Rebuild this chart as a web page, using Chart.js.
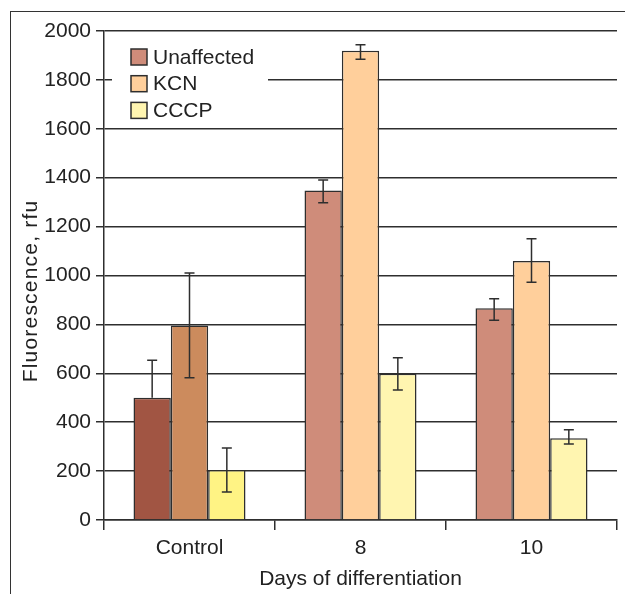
<!DOCTYPE html>
<html>
<head>
<meta charset="utf-8">
<script src="https://cdn.jsdelivr.net/npm/chart.js@4.4.1/dist/chart.umd.min.js"></script>
<style>
  html, body { margin: 0; padding: 0; background: #fff; }
  #wrap { position: relative; width: 625px; height: 594px; }
  #frame { position: absolute; left: 10px; top: 11px; right: 0; bottom: 0; border-top: 1.5px solid #333; border-left: 1.5px solid #333; }
  canvas { position: absolute; left: 0; top: 0; }
</style>
</head>
<body>
<div id="wrap">
  <div id="frame"></div>
  <canvas id="chart" width="625" height="594"></canvas>
</div>
<script>
// data
const categories = ['Control', '8', '10'];
const seriesNames = ['Unaffected', 'KCN', 'CCCP'];
const unaffected = [500, 1348, 866];
const kcn = [795, 1919, 1059];
const cccp = [205, 598, 334];
const unaffectedHi = [653, 1391, 905];
const unaffectedLo = [null, 1298, 817];
const kcnHi = [1010, 1944, 1150];
const kcnLo = [582, 1884, 972];
const cccpHi = [294, 664, 369];
const cccpLo = [115, 532, 311];
const yTicks = [0, 200, 400, 600, 800, 1000, 1200, 1400, 1600, 1800, 2000];
const yTitle = 'Fluorescence, rfu';

// control bars darker, day bars lighter
const controlColors = ['#a15543', '#cc8b5d', '#fff384'];
const dayColors = ['#cf8c7a', '#ffcf9b', '#fff5b0'];
const ink = '#2e2e2e';
const fontFamily = '"Liberation Sans", Arial, sans-serif';
const fontSize = 21;

function colorsFor(i) {
    return categories.map((c, j) => j === 0 ? controlColors[i] : dayColors[i]);
}

const errors = [
    { hi: unaffectedHi, lo: unaffectedLo },
    { hi: kcnHi, lo: kcnLo },
    { hi: cccpHi, lo: cccpLo }
];

const errorBars = {
    id: 'errorBars',
    afterDatasetsDraw(chart) {
        const ctx = chart.ctx;
        const y = chart.scales.y;
        ctx.save();
        ctx.strokeStyle = ink;
        ctx.lineWidth = 1.5;
        chart.data.datasets.forEach((ds, i) => {
            const meta = chart.getDatasetMeta(i);
            meta.data.forEach((bar, j) => {
                const hi = errors[i].hi[j];
                const lo = errors[i].lo[j] == null ? ds.data[j] : errors[i].lo[j];
                const yHi = y.getPixelForValue(hi);
                const yLo = y.getPixelForValue(lo);
                ctx.beginPath();
                ctx.moveTo(bar.x, yHi);
                ctx.lineTo(bar.x, yLo);
                ctx.moveTo(bar.x - 5, yHi);
                ctx.lineTo(bar.x + 5, yHi);
                if (errors[i].lo[j] != null) {
                    ctx.moveTo(bar.x - 5, yLo);
                    ctx.lineTo(bar.x + 5, yLo);
                }
                ctx.stroke();
            });
        });
        ctx.restore();
    }
};

// legend sits inside the plot, top left, on a white patch
const insideLegend = {
    id: 'insideLegend',
    afterDraw(chart) {
        const ctx = chart.ctx;
        const left = chart.chartArea.left;
        const top = chart.chartArea.top;
        ctx.save();
        ctx.fillStyle = '#fff';
        ctx.fillRect(left + 8, top + 10, 156, 84);
        ctx.font = fontSize + 'px ' + fontFamily;
        ctx.textBaseline = 'middle';
        seriesNames.forEach((name, i) => {
            const cy = top + 26 + i * 26.7;
            ctx.fillStyle = dayColors[i];
            ctx.fillRect(left + 27, cy - 8, 16, 16);
            ctx.strokeStyle = ink;
            ctx.lineWidth = 1.5;
            ctx.strokeRect(left + 27, cy - 8, 16, 16);
            ctx.fillStyle = '#222';
            ctx.fillText(name, left + 49, cy + 1);
        });

        // rotated y title, slightly spaced like the original
        ctx.translate(31, 291);
        ctx.rotate(-Math.PI / 2);
        ctx.textAlign = 'center';
        ctx.letterSpacing = '1.2px';
        ctx.fillText(yTitle, 0, 0);
        ctx.restore();
    }
};

new Chart(document.getElementById('chart'), {
    type: 'bar',
    data: {
        labels: categories,
        datasets: [
            { label: seriesNames[0], data: unaffected, backgroundColor: colorsFor(0) },
            { label: seriesNames[1], data: kcn, backgroundColor: colorsFor(1) },
            { label: seriesNames[2], data: cccp, backgroundColor: colorsFor(2) }
        ].map(d => Object.assign(d, {
            borderColor: ink, borderWidth: 1.5, barPercentage: 1, categoryPercentage: 0.655
        }))
    },
    options: {
        responsive: false,
        animation: false,
        devicePixelRatio: 1,
        layout: { padding: { left: 0, right: 8, top: 31, bottom: 0 } },
        plugins: { legend: { display: false }, tooltip: { enabled: false } },
        scales: {
            x: {
                offset: true,
                grid: { offset: true, drawOnChartArea: false, drawTicks: true, tickLength: 10, color: ink, lineWidth: 1.5 },
                border: { color: ink, width: 1.5 },
                ticks: { color: '#222', font: { family: fontFamily, size: fontSize }, padding: 6 },
                title: { display: true, text: 'Days of differentiation', color: '#222', font: { family: fontFamily, size: fontSize }, padding: { top: 4, bottom: 2 } },
                afterFit(s) { s.height = 74; }
            },
            y: {
                min: 0, max: 2000,
                afterBuildTicks(s) { s.ticks = yTicks.map(v => ({ value: v })); },
                grid: { color: ink, lineWidth: 1.5, tickLength: 8 },
                border: { color: ink, width: 1.5 },
                ticks: { color: '#222', font: { family: fontFamily, size: fontSize }, padding: 5, callback: v => String(v) },
                afterFit(s) { s.width = 104; }
            }
        }
    },
    plugins: [errorBars, insideLegend]
});
</script>
</body>
</html>
